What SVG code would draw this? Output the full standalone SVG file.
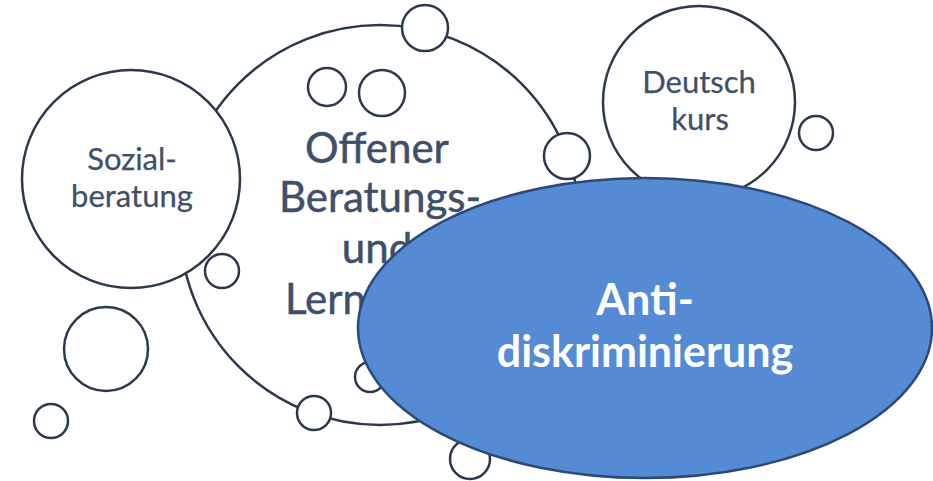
<svg xmlns="http://www.w3.org/2000/svg" width="933" height="481" viewBox="0 0 933 481">
<style>
.c{fill:#ffffff;stroke:#2c394d;stroke-width:2.5}
.lbl{font-family:Lato,"Liberation Sans",sans-serif;fill:#3f4f6a;stroke:#3f4f6a;text-anchor:middle}
.big{font-size:42px;stroke-width:0.5}
.sm{font-size:31px;stroke-width:0.25}
.e{fill:#548bd4;stroke:#2c4a78;stroke-width:2.5}
.w{font-family:Lato,"Liberation Sans",sans-serif;font-weight:bold;font-size:43px;fill:#ffffff;text-anchor:middle}
</style>
<rect width="933" height="481" fill="#ffffff"/>
<g id="offener">
<circle class="c" cx="380" cy="225" r="200"/>
<text class="lbl big" x="377" y="163">Offener</text>
<text class="lbl big" x="380" y="212">Beratungs-</text>
<text class="lbl big" x="377" y="263">und</text>
<text class="lbl big" x="285" y="314" style="text-anchor:start">Lern</text>
</g>
<g id="bubbles-inner">
<circle class="c" cx="327" cy="87" r="19"/>
<circle class="c" cx="382" cy="93" r="23"/>
<circle class="c" cx="222" cy="271" r="17"/>
<circle class="c" cx="370" cy="377" r="15"/>
<circle class="c" cx="425" cy="28" r="23"/>
<circle class="c" cx="567" cy="156" r="23"/>
<circle class="c" cx="314" cy="413" r="17"/>
</g>
<g id="sozialberatung">
<circle class="c" cx="131" cy="179" r="109"/>
<text class="lbl sm" x="132" y="170">Sozial-</text>
<text class="lbl sm" x="132" y="207">beratung</text>
</g>
<g id="deutschkurs">
<circle class="c" cx="699" cy="102" r="96"/>
<text class="lbl sm" x="699" y="93">Deutsch</text>
<text class="lbl sm" x="700" y="130">kurs</text>
</g>
<g id="bubbles-outer">
<circle class="c" cx="816" cy="133" r="17"/>
<circle class="c" cx="106" cy="349" r="42"/>
<circle class="c" cx="51" cy="421" r="17"/>
<circle class="c" cx="470" cy="459" r="20"/>
</g>
<g id="antidiskriminierung">
<ellipse class="e" cx="645" cy="328" rx="287" ry="150"/>
<text class="w" x="645" y="315">Anti-</text>
<text class="w" x="645" y="367">diskriminierung</text>
</g>
</svg>
